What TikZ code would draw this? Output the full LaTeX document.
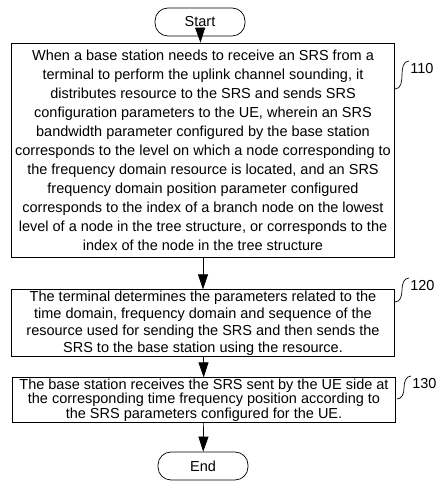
\documentclass[tikz,border=0pt]{standalone}
\usepackage{fontspec}
\setmainfont{Liberation Sans}
\usetikzlibrary{arrows.meta}

\begin{document}
\begin{tikzpicture}[x=1pt,y=1pt,line width=0.7pt,>={Triangle[length=15pt,width=10pt]},
        terminal/.style={draw,rounded corners=13pt,minimum width=90pt,minimum height=28pt,font=\fontsize{14.5}{17}\selectfont},
        stepbox/.style={draw,align=center,minimum width=383pt,inner xsep=2pt,inner ysep=1pt},
        reflabel/.style={anchor=west,inner sep=0pt,xshift=1pt,yshift=-8pt,font=\fontsize{14.5}{17}\selectfont}]
        \useasboundingbox (0,0) rectangle (439,497);

        % draw the start and end
        \node[terminal] (start) at (200,475) {Start};
        \node[terminal] (end) at (203,31) {End};

        % draw the three steps
        \node[stepbox,minimum height=214pt,font=\fontsize{14.5}{19}\selectfont] (s110) at (203,347) {When a base station needs to receive an SRS from a\\
              terminal to perform the uplink channel sounding, it\\
              distributes resource to the SRS and sends SRS\\
              configuration parameters to the UE, wherein an SRS\\
              bandwidth parameter configured by the base station\\
              corresponds to the level on which a node corresponding to\\
              the frequency domain resource is located, and an SRS\\
              frequency domain position parameter configured\\
              corresponds to the index of a branch node on the lowest\\
              level of a node in the tree structure, or corresponds to the\\
              index of the node in the tree structure};
        \node[stepbox,minimum height=66pt,font=\fontsize{14.5}{17}\selectfont] (s120) at (203,174) {The terminal determines the parameters related to the\\
              time domain, frequency domain and sequence of the\\
              resource used for sending the SRS and then sends the\\
              SRS to the base station using the resource.};
        \node[stepbox,minimum height=42pt,font=\fontsize{14.5}{14.5}\selectfont] (s130) at (204,97) {The base station receives the SRS sent by the UE side at\\
              the corresponding time frequency position according to\\
              the SRS parameters configured for the UE.};

        % draw the arrows
        \draw[->] (start) -- (s110);
        \draw[->] (s110) -- (s120);
        \draw[->] (s120) -- (s130);
        \draw[->] (s130) -- (end);

        % draw the reference numbers
        % the hook starts on the right side of each box
        \coordinate (e110) at (395,408);
        \coordinate (e120) at (395,195);
        \coordinate (e130) at (397,98);
        \draw (e110) to[out=0,in=-90] ++(7,14) to[out=90,in=180] ++(7,14) node[reflabel] (l110) {110};
        \draw (e120) to[out=0,in=-90] ++(7,12) to[out=90,in=180] ++(7,12) node[reflabel] (l120) {120};
        \draw (e130) to[out=0,in=-90] ++(7,11) to[out=90,in=180] ++(7,12) node[reflabel] (l130) {130};
    \end{tikzpicture}
\end{document}
